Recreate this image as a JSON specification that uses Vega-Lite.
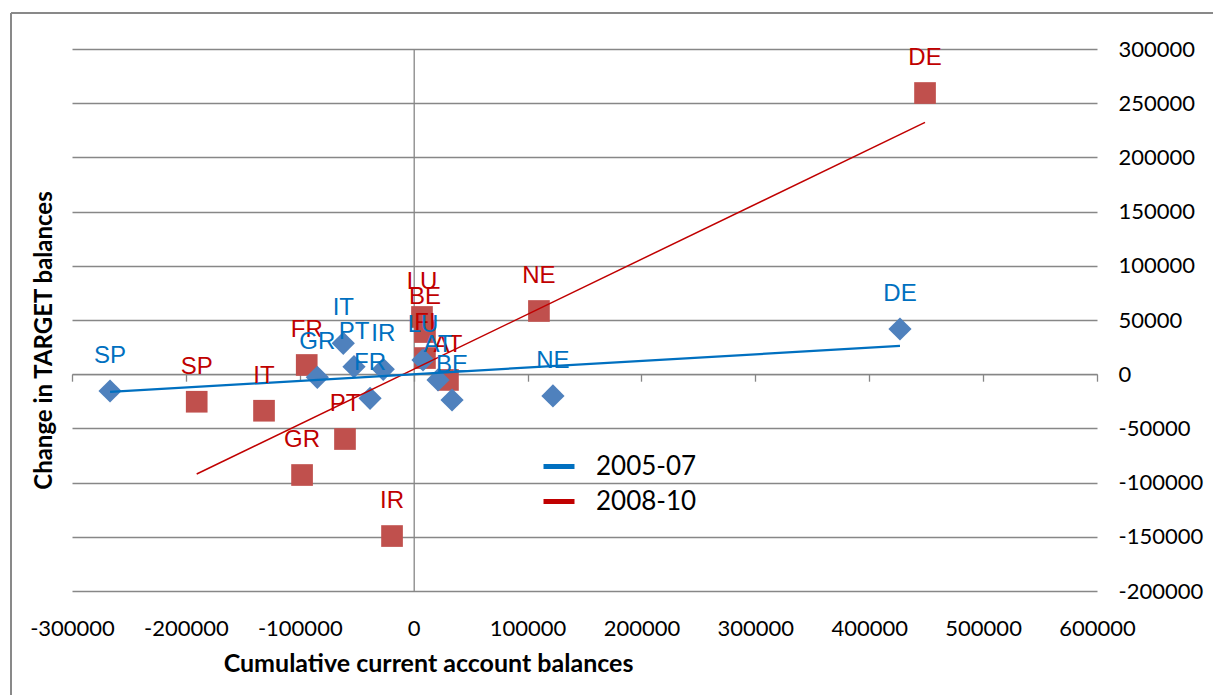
{
  "$schema": "https://vega.github.io/schema/vega-lite/v6.json",
  "width": 1025,
  "height": 542,
  "autosize": {"type": "none"},
  "padding": {"left": 72, "top": 49, "right": 116, "bottom": 104},
  "background": "white",
  "config": {
    "view": {"stroke": null, "fill": "white"},
    "font": "Lato"
  },
  "data": {
    "values": [
      {"period": "2008-10", "country": "DE", "x": 449000, "y": 259400},
      {"period": "2008-10", "country": "NE", "x": 110000, "y": 58300},
      {"period": "2008-10", "country": "SP", "x": -190500, "y": -25400},
      {"period": "2008-10", "country": "IT", "x": -131400, "y": -33700},
      {"period": "2008-10", "country": "GR", "x": -98000, "y": -93000},
      {"period": "2008-10", "country": "IR", "x": -19000, "y": -149300},
      {"period": "2008-10", "country": "PT", "x": -60300, "y": -59800},
      {"period": "2008-10", "country": "FR", "x": -93900, "y": 8500},
      {"period": "2008-10", "country": "LU", "x": 7300, "y": 52800},
      {"period": "2008-10", "country": "BE", "x": 9900, "y": 38900},
      {"period": "2008-10", "country": "FI", "x": 9900, "y": 14900},
      {"period": "2008-10", "country": "AT", "x": 30100, "y": -5300},
      {"period": "2005-07", "country": "SP", "x": -266600, "y": -15500},
      {"period": "2005-07", "country": "IT", "x": -61800, "y": 28500},
      {"period": "2005-07", "country": "GR", "x": -84600, "y": -2900},
      {"period": "2005-07", "country": "PT", "x": -52400, "y": 6900},
      {"period": "2005-07", "country": "IR", "x": -26700, "y": 4500},
      {"period": "2005-07", "country": "FR", "x": -38300, "y": -22200},
      {"period": "2005-07", "country": "LU", "x": 8200, "y": 13100},
      {"period": "2005-07", "country": "AT", "x": 21400, "y": -5300},
      {"period": "2005-07", "country": "BE", "x": 33700, "y": -23800},
      {"period": "2005-07", "country": "NE", "x": 122300, "y": -20100},
      {"period": "2005-07", "country": "DE", "x": 427000, "y": 41700}
    ]
  },
  "layer": [
    {
      "transform": [{"filter": "datum.period === '2008-10'"}],
      "mark": {"type": "point", "shape": "square", "filled": true, "size": 470, "color": "#C0504D", "opacity": 1},
      "encoding": {
        "x": {
          "field": "x", "type": "quantitative",
          "scale": {"domain": [-300000, 600000], "nice": false, "zero": false},
          "axis": {
            "orient": "bottom", "domain": false, "ticks": false, "grid": false,
            "labelPadding": 27, "labelFontSize": 22, "labelColor": "black", "labelFont": "Lato",
            "values": [-300000, -200000, -100000, 0, 100000, 200000, 300000, 400000, 500000, 600000],
            "labelExpr": "'' + datum.value", "labelFlush": false, "labelOverlap": false,
            "title": "Cumulative current account balances", "titleFontSize": 25, "titleFontWeight": "bold",
            "titleColor": "black", "titleFont": "Lato", "titleX": 356, "titleY": 72,
            "titleAlign": "center", "titleBaseline": "middle"
          }
        },
        "y": {
          "field": "y", "type": "quantitative",
          "scale": {"domain": [-200000, 300000], "nice": false, "zero": false},
          "axis": {
            "orient": "right", "domain": false, "ticks": false, "grid": true,
            "gridColor": "#878787", "gridWidth": 1.3,
            "labelPadding": 21, "labelFontSize": 22, "labelColor": "black", "labelFont": "Lato",
            "values": [-200000, -150000, -100000, -50000, 0, 50000, 100000, 150000, 200000, 250000, 300000],
            "labelExpr": "'' + datum.value", "labelFlush": false, "labelOverlap": false,
            "title": null
          }
        }
      }
    },
    {
      "transform": [{"filter": "datum.period === '2005-07'"}],
      "mark": {"type": "point", "shape": "diamond", "filled": true, "size": 540, "color": "#4F81BD", "opacity": 1},
      "encoding": {
        "x": {
          "field": "x", "type": "quantitative",
          "axis": {
            "orient": "bottom", "offset": -216.8, "domain": true, "domainColor": "#868686", "domainWidth": 1.3,
            "ticks": true, "tickColor": "#868686", "tickSize": 7, "tickWidth": 1.3, "labels": false, "grid": false,
            "values": [-300000, -200000, -100000, 0, 100000, 200000, 300000, 400000, 500000, 600000],
            "title": null
          }
        },
        "y": {
          "field": "y", "type": "quantitative",
          "axis": {
            "orient": "left", "offset": -341.7, "domain": true, "domainColor": "#868686", "domainWidth": 1.3,
            "ticks": false, "labels": false, "grid": false,
            "title": "Change in TARGET balances", "titleX": -369.7, "titleY": 291, "titleAngle": -90,
            "titleAlign": "center", "titleBaseline": "middle", "titleFontSize": 24, "titleFontWeight": "bold",
            "titleColor": "black", "titleFont": "Lato"
          }
        }
      }
    },
    {
      "transform": [{"regression": "y", "on": "x", "groupby": ["period"]}],
      "mark": {"type": "line"},
      "encoding": {
        "x": {
          "field": "x", "type": "quantitative",
          "axis": {
            "orient": "top", "offset": -25, "translate": -61, "domain": false, "labels": false, "grid": false,
            "ticks": true, "values": [-300000], "tickSize": -700, "tickColor": "#898989", "tickWidth": 2,
            "title": null
          }
        },
        "y": {
          "field": "y", "type": "quantitative",
          "axis": {
            "orient": "left", "offset": 25, "translate": -36, "domain": false, "labels": false, "grid": false,
            "ticks": true, "values": [300000], "tickSize": -1220, "tickColor": "#898989", "tickWidth": 2,
            "title": null
          }
        },
        "color": {
          "field": "period", "type": "nominal",
          "scale": {"domain": ["2005-07", "2008-10"], "range": ["#0070C0", "#C00000"]},
          "legend": {
            "orient": "none", "legendX": 469, "legendY": 399.5, "title": null,
            "symbolType": "stroke", "symbolStrokeWidth": 5, "symbolSize": 961,
            "labelFontSize": 26, "labelFont": "Lato", "labelColor": "black", "labelOffset": 19,
            "rowPadding": 4, "padding": 0
          }
        },
        "strokeWidth": {"condition": {"test": "datum.period === '2005-07'", "value": 2.2}, "value": 1.5}
      }
    },
    {
      "mark": {"type": "text", "dy": -35, "fontSize": 24, "font": "Liberation Sans", "baseline": "middle", "align": "center"},
      "encoding": {
        "x": {"field": "x", "type": "quantitative", "axis": null},
        "y": {"field": "y", "type": "quantitative", "axis": null},
        "text": {"field": "country"},
        "color": {"condition": {"test": "datum.period === '2005-07'", "value": "#0070C0"}, "value": "#C00000"}
      }
    }
  ],
  "resolve": {"axis": {"x": "independent", "y": "independent"}}
}
